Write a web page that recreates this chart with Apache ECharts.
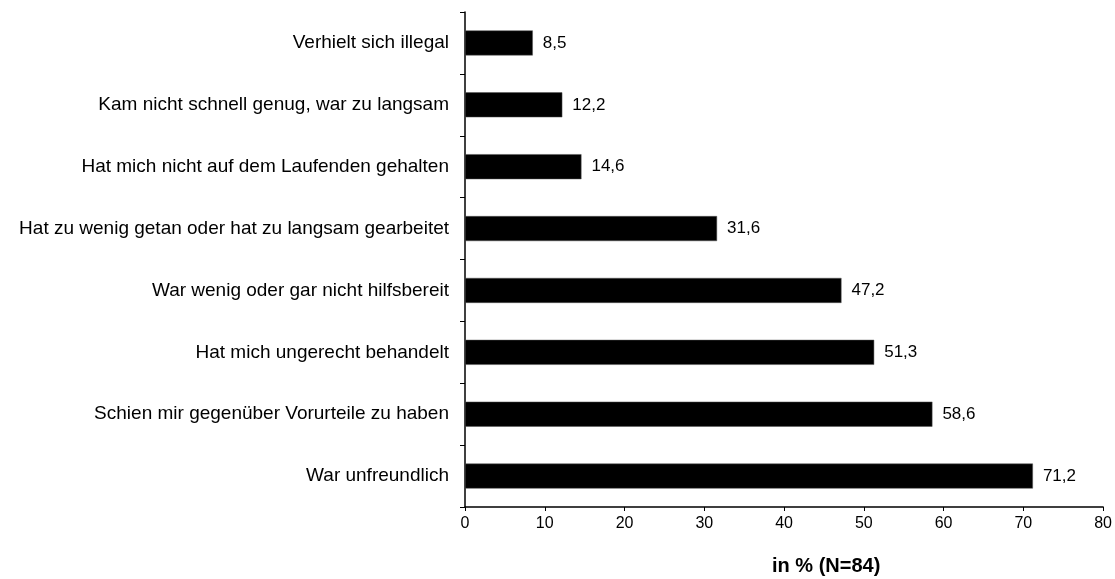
<!DOCTYPE html>
<html>
<head>
<meta charset="utf-8">
<script src="https://cdn.jsdelivr.net/npm/echarts@6/dist/echarts.min.js"></script>
<style>
  html, body { margin: 0; padding: 0; background: #fff; }
  #chart { width: 1115px; height: 579px; }
</style>
</head>
<body>
<div id="chart"></div>
<script>
// Kategorien von oben nach unten
const categories = [
  'Verhielt sich illegal',
  'Kam nicht schnell genug, war zu langsam',
  'Hat mich nicht auf dem Laufenden gehalten',
  'Hat zu wenig getan oder hat zu langsam gearbeitet',
  'War wenig oder gar nicht hilfsbereit',
  'Hat mich ungerecht behandelt',
  'Schien mir gegenüber Vorurteile zu haben',
  'War unfreundlich'
]
const values = [8.5, 12.2, 14.6, 31.6, 47.2, 51.3, 58.6, 71.2]
const axisTitle = 'in % (N=84)'

const chart = echarts.init(document.getElementById('chart'))

const option = {
  animation: false,
  textStyle: { fontFamily: 'Liberation Sans, Arial, sans-serif' },
  grid: { left: 465, right: 11, top: 12, bottom: 72 },
  xAxis: {
    type: 'value',
    min: 0,
    max: 80,
    interval: 10,
    splitLine: { show: false },
    axisLine: { show: true, lineStyle: { color: '#000', width: 1.5 } },
    axisTick: { show: true, length: 4, lineStyle: { color: '#000' } },
    axisLabel: { color: '#000', fontSize: 16, margin: 9 }
  },
  yAxis: {
    type: 'category',
    inverse: true,
    data: categories,
    axisLine: { show: true, lineStyle: { color: '#000', width: 1.5 } },
    axisTick: { show: true, length: 5, lineStyle: { color: '#000' } },
    axisLabel: { color: '#000', fontSize: 19, margin: 16 }
  },
  graphic: [
    {
      type: 'text',
      left: 772,
      top: 556,
      style: {
        text: axisTitle,
        font: 'bold 20px Liberation Sans, Arial, sans-serif',
        fill: '#000'
      }
    }
  ],
  series: [
    {
      type: 'bar',
      data: values,
      barWidth: 25,
      itemStyle: { color: '#000', borderColor: '#555', borderWidth: 0.5 },
      label: {
        show: true,
        position: 'right',
        distance: 10,
        color: '#000',
        fontSize: 17,
        formatter: (p) => p.value.toFixed(1).replace('.', ',')
      }
    }
  ]
}

chart.setOption(option)
</script>
</body>
</html>
